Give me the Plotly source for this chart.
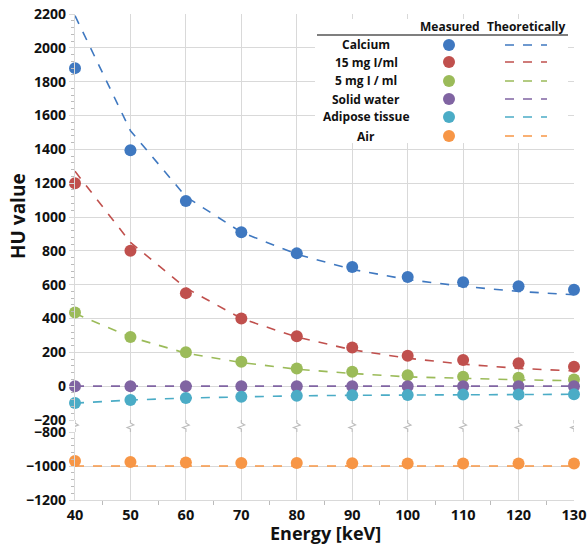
import plotly.graph_objects as go
from plotly.subplots import make_subplots

energy = [40, 50, 60, 70, 80, 90, 100, 110, 120, 130]

names = ["Calcium", "15 mg I/ml", "5 mg I / ml", "Solid water", "Adipose tissue", "Air"]
colors = ["#3f78c0", "#c0504d", "#9bbb59", "#8064a2", "#4bacc6", "#f79646"]

calcium_meas = [1880, 1395, 1095, 910, 785, 705, 645, 615, 590, 570]
calcium_theo = [2190, 1510, 1120, 910, 780, 690, 630, 590, 560, 540]
iod15_meas = [1200, 800, 550, 400, 295, 228, 180, 155, 135, 115]
iod15_theo = [1270, 850, 580, 400, 290, 215, 165, 130, 105, 90]
iod5_meas = [435, 290, 200, 145, 105, 85, 65, 55, 50, 40]
iod5_theo = [430, 290, 195, 140, 100, 75, 55, 45, 38, 32]
water_meas = [0, 0, 0, 0, 0, 0, 0, 0, 0, 0]
water_theo = [0, 0, 0, 0, 0, 0, 0, 0, 0, 0]
adipose_meas = [-100, -82, -70, -62, -57, -54, -52, -50, -49, -48]
adipose_theo = [-100, -82, -70, -62, -57, -54, -52, -50, -49, -48]
air_meas = [-970, -976, -980, -982, -983, -984, -985, -985, -985, -985]
air_theo = [-1000, -1000, -1000, -1000, -1000, -1000, -1000, -1000, -1000, -1000]

measured = [calcium_meas, iod15_meas, iod5_meas, water_meas, adipose_meas, air_meas]
theoretical = [calcium_theo, iod15_theo, iod5_theo, water_theo, adipose_theo, air_theo]

W, H = 587, 546
ml, mr, mt, mb = 75, 13, 14, 46
ph = H - mt - mb
up_bot = 420
lo_top = 432

fig = make_subplots(rows=2, cols=1, shared_xaxes=True, vertical_spacing=0.02)

for i, nm in enumerate(names):
    row = 2 if nm == "Air" else 1
    fig.add_trace(go.Scatter(x=energy, y=theoretical[i], mode="lines",
                             line=dict(color=colors[i], width=1.6, dash="dash"),
                             showlegend=False, cliponaxis=False), row=row, col=1)
    fig.add_trace(go.Scatter(x=energy, y=measured[i], mode="markers",
                             marker=dict(color=colors[i], size=12),
                             showlegend=False, cliponaxis=False), row=row, col=1)

def py(pix):
    return (H - mb - pix) / ph

def px(pix):
    return (pix - ml) / (W - ml - mr)

tickfont = dict(family="Open Sans", size=14, color="#111", weight="bold")
grid = "#d9d9d9"

fig.update_layout(
    width=W, height=H, margin=dict(l=ml, r=mr, t=mt, b=mb, autoexpand=False),
    plot_bgcolor="white", paper_bgcolor="white",
    font=dict(family="Open Sans"),
    yaxis=dict(domain=[py(up_bot), 1], range=[-200, 2200], dtick=200, automargin=False,
               gridcolor=grid, gridwidth=1.2, zeroline=False,
               showline=True, linecolor=grid, linewidth=1.2,
               ticks="outside", ticklen=5, tickcolor=grid,
               minor=dict(dtick=40, ticks="outside", ticklen=3, tickcolor="#bbb", showgrid=False),
               tickfont=tickfont, ticklabeloverflow="allow"),
    yaxis2=dict(domain=[0, py(lo_top)], range=[-1200, -800], dtick=200, automargin=False,
                gridcolor=grid, gridwidth=1.2, zeroline=False,
                showline=True, linecolor=grid, linewidth=1.2,
                ticks="outside", ticklen=5, tickcolor=grid,
                minor=dict(dtick=40, ticks="outside", ticklen=3, tickcolor="#bbb", showgrid=False),
                tickfont=tickfont, ticklabeloverflow="allow"),
    xaxis=dict(range=[40, 130], dtick=10, gridcolor=grid, gridwidth=1.2, automargin=False,
               showticklabels=False, zeroline=False),
    xaxis2=dict(range=[40, 130], dtick=10, gridcolor=grid, gridwidth=1.2, automargin=False,
                zeroline=False, showline=True, linecolor=grid, linewidth=1.2,
                ticks="", minor=dict(dtick=5, ticks="outside", ticklen=4, tickcolor="#bbb"),
                tickfont=dict(family="Open Sans", size=14.5, color="#111", weight="bold"),
                ticklabelstandoff=1, ticklabeloverflow="allow"),
)

fig.add_annotation(text="<b>HU value</b>", xref="paper", yref="paper",
                   x=px(18), y=py(216), textangle=-90, showarrow=False,
                   xanchor="center", yanchor="middle",
                   font=dict(family="Open Sans", size=19, color="#111"))
fig.add_annotation(text="<b>Energy [keV]</b>", xref="paper", yref="paper",
                   x=px(325), y=py(532.5), showarrow=False,
                   xanchor="center", yanchor="middle",
                   font=dict(family="Open Sans", size=18, color="#111"))

# axis-break zigzags on each vertical gridline
for xv in energy:
    dx = 0.6
    yt = py(up_bot)
    yb = py(lo_top)
    path = (f"M {xv},{yt} L {xv},{py(up_bot + 3)} L {xv + dx},{py(up_bot + 5)} "
            f"L {xv - dx},{py(up_bot + 7.5)} L {xv},{py(up_bot + 9)} L {xv},{yb}")
    fig.add_shape(type="path", path=path, xref="x2", yref="paper",
                  line=dict(color="#bdbdbd", width=1.2))

# custom legend table
bx0, bx1, by0, by1 = 315, 568, 19, 143
fig.add_shape(type="rect", xref="paper", yref="paper",
              x0=px(bx0), x1=px(bx1), y0=py(by1), y1=py(by0),
              fillcolor="white", line=dict(width=0), layer="above")
fig.add_shape(type="line", xref="paper", yref="paper",
              x0=px(317), x1=px(568), y0=py(35), y1=py(35),
              line=dict(color="#555", width=1.3), layer="above")
lfont = dict(family="Open Sans", size=12, color="#111")
fig.add_annotation(text="<b>Measured</b>", xref="paper", yref="paper", x=px(450), y=py(26),
                   xanchor="center", yanchor="middle", showarrow=False, font=lfont)
fig.add_annotation(text="<b>Theoretically</b>", xref="paper", yref="paper", x=px(526), y=py(26),
                   xanchor="center", yanchor="middle", showarrow=False, font=lfont)
rows_y = [45, 62, 81, 99, 117, 136]
for i, nm in enumerate(names):
    yy = rows_y[i]
    fig.add_annotation(text=f"<b>{nm}</b>", xref="paper", yref="paper", x=px(366), y=py(yy),
                       xanchor="center", yanchor="middle", showarrow=False, font=lfont)
    r = 6
    fig.add_shape(type="circle", xref="paper", yref="paper",
                  x0=px(449 - r), x1=px(449 + r), y0=py(yy + r), y1=py(yy - r),
                  fillcolor=colors[i], line=dict(width=0), layer="above")
    fig.add_shape(type="line", xref="paper", yref="paper",
                  x0=px(505), x1=px(547), y0=py(yy), y1=py(yy),
                  line=dict(color=colors[i], width=1.6, dash="dash"), layer="above")

fig.write_html("out.html")
